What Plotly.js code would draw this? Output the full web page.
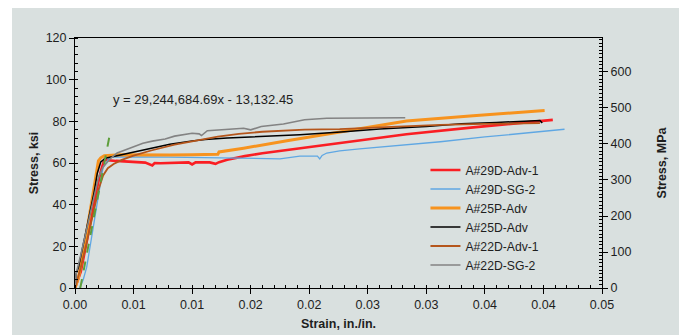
<!DOCTYPE html>
<html>
<head>
<meta charset="utf-8">
<script src="https://cdn.plot.ly/plotly-3.0.1.min.js"></script>
<style>
  html, body { margin: 0; padding: 0; background: #ffffff; }
  #chart { width: 684px; height: 335px; }
</style>
</head>
<body>
<div id="chart"></div>
<script>
// ---- Data (strain in./in., stress ksi) ----
const seriesNames = ["A#29D-Adv-1", "A#29D-SG-2", "A#25P-Adv", "A#25D-Adv", "A#22D-Adv-1", "A#22D-SG-2"];

const a29dAdv1Strain = [0, 0.0005, 0.0012, 0.0018, 0.0022, 0.0025, 0.0035, 0.0047, 0.0060, 0.0066, 0.0068, 0.0073, 0.0085, 0.0097, 0.0100, 0.0103, 0.0115, 0.0120, 0.0123, 0.0130, 0.0145, 0.0160, 0.0186, 0.0215, 0.0243, 0.0283, 0.0340, 0.0377, 0.0408];
const a29dAdv1Stress = [0, 8, 28, 46, 56, 61.5, 61.0, 60.6, 60.2, 58.8, 60.0, 59.9, 60.2, 60.3, 59.3, 60.3, 60.3, 59.6, 60.4, 61.6, 63.3, 64.7, 66.6, 68.7, 70.6, 73.8, 77.1, 79.1, 80.7];

const a29dSg2Strain = [0.0004, 0.0007, 0.0010, 0.0015, 0.0020, 0.0024, 0.0030, 0.0050, 0.0080, 0.0110, 0.0140, 0.0160, 0.0175, 0.0192, 0.0207, 0.0209, 0.0211, 0.0215, 0.0226, 0.0243, 0.0270, 0.0312, 0.0350, 0.0397, 0.0418];
const a29dSg2Stress = [0, 4, 10, 27, 44, 58, 63.0, 63.0, 62.8, 62.6, 62.4, 62.2, 62.0, 63.3, 63.3, 62.0, 63.6, 64.8, 65.8, 66.8, 68.0, 70.2, 72.5, 75.2, 76.2];

const a25pAdvStrain = [0, 0.0003, 0.0008, 0.0013, 0.0017, 0.0019, 0.0020, 0.0022, 0.0025, 0.0038, 0.0060, 0.0081, 0.0100, 0.0122, 0.0123, 0.0144, 0.0181, 0.0226, 0.0283, 0.0340, 0.0370, 0.0401];
const a25pAdvStress = [0, 5, 20, 38, 52, 58, 61, 62.5, 63.5, 64.0, 63.8, 63.9, 64.0, 64.2, 65.3, 67.1, 70.7, 75.0, 80.2, 82.7, 84.0, 85.2];

const a25dAdvStrain = [0, 0.0001, 0.0003, 0.0010, 0.0016, 0.0019, 0.0022, 0.0026, 0.0036, 0.0050, 0.0065, 0.0081, 0.0100, 0.0111, 0.0130, 0.0160, 0.0192, 0.0230, 0.0260, 0.0300, 0.0330, 0.0360, 0.0385, 0.0397, 0.0399];
const a25dAdvStress = [0, 7, 10, 28, 45, 55, 60.5, 62.3, 63.5, 65.0, 67.0, 69.0, 70.6, 71.3, 72.0, 72.8, 73.6, 75.0, 76.3, 77.5, 78.8, 79.5, 80.0, 80.4, 79.2];

const a22dAdv1Strain = [0, 0.0005, 0.0010, 0.0015, 0.0020, 0.0024, 0.0028, 0.0033, 0.0040, 0.0050, 0.0065, 0.0085, 0.0105, 0.0122, 0.0140, 0.0160, 0.0196, 0.0226, 0.0270, 0.0312, 0.0350, 0.0397];
const a22dAdv1Stress = [0, 10, 22, 35, 47, 54, 57.5, 59.5, 61.5, 63.5, 66.0, 68.8, 71.0, 72.7, 74.0, 75.0, 76.0, 76.3, 77.3, 78.3, 78.8, 79.1];

const a22dSg2Strain = [0, 0.0001, 0.0005, 0.0010, 0.0015, 0.0020, 0.0024, 0.0030, 0.0036, 0.0047, 0.0058, 0.0066, 0.0077, 0.0085, 0.0100, 0.0106, 0.0108, 0.0113, 0.0129, 0.0144, 0.0150, 0.0159, 0.0178, 0.0196, 0.0215, 0.0250, 0.0282];
const a22dSg2Stress = [0, 7, 16, 28, 41, 53, 58, 62, 64.8, 67, 69.5, 70.5, 71.5, 72.9, 74.3, 74.0, 73.2, 75.5, 76.0, 76.7, 75.9, 77.5, 78.7, 80.8, 81.5, 81.7, 81.7];

// Linear fit line (green dashed)
const fitStrain = [0.00045, 0.00305];
const fitStress = [0, 76];
const fitLabel = "y = 29,244,684.69x - 13,132.45";

// Axis ticks
const xTickVals = [0, 0.005, 0.010, 0.015, 0.020, 0.025, 0.030, 0.035, 0.040, 0.045];
const xTickText = ["0.00", "0.01", "0.01", "0.02", "0.02", "0.03", "0.03", "0.04", "0.04", "0.05"];
const mpaRange = [0, 694.4];

// ---- Styles ----
const colors = ["#fa1e23", "#5fa7e3", "#f7931e", "#000000", "#b5561c", "#838383"];
const widths = [2.6, 1.3, 3, 1.5, 1.8, 1.6];
const xs = [a29dAdv1Strain, a29dSg2Strain, a25pAdvStrain, a25dAdvStrain, a22dAdv1Strain, a22dSg2Strain];
const ys = [a29dAdv1Stress, a29dSg2Stress, a25pAdvStress, a25dAdvStress, a22dAdv1Stress, a22dSg2Stress];

const traces = seriesNames.map((n, i) => ({
  type: "scatter", mode: "lines", name: n,
  x: xs[i], y: ys[i],
  line: { color: colors[i], width: widths[i] }
}));
traces.push({
  type: "scatter", mode: "lines", name: "fit", showlegend: false,
  x: fitStrain, y: fitStress,
  line: { color: "#5e9e3b", width: 2, dash: "dash" }
});
// empty trace so the secondary (MPa) axis is drawn
traces.push({
  type: "scatter", mode: "lines", name: "MPa", showlegend: false,
  x: [], y: [], yaxis: "y2", hoverinfo: "skip"
});

const font = "Liberation Sans, Arial, sans-serif";
const tc = "#1e1e1e";

const layout = {
  width: 684, height: 335,
  margin: { l: 75, r: 82, t: 38, b: 47 },
  paper_bgcolor: "#ffffff",
  plot_bgcolor: "rgba(0,0,0,0)",
  font: { family: font, size: 12.5, color: tc },
  showlegend: true,
  legend: {
    x: 0.665, y: 0.53, xanchor: "left", yanchor: "top",
    bgcolor: "rgba(0,0,0,0)", font: { size: 12.2, color: tc },
    tracegroupgap: 0
  },
  xaxis: {
    range: [0, 0.045], tickvals: xTickVals, ticktext: xTickText,
    showgrid: false, zeroline: false, showline: true, mirror: true,
    linecolor: "#000", linewidth: 1,
    ticks: "outside", ticklen: 5, tickcolor: "#000",
    minor: { dtick: 0.001, ticks: "inside", ticklen: 3, tickcolor: "#000" },
    tickfont: { size: 12.5, color: tc },
    title: { text: "Strain, in./in.", font: { size: 12.5, color: tc, weight: "bold" }, standoff: 8 }
  },
  yaxis: {
    range: [0, 120], dtick: 20,
    showgrid: false, zeroline: false, showline: true,
    linecolor: "#000", linewidth: 1,
    ticks: "outside", ticklen: 5, tickcolor: "#000",
    minor: { dtick: 4, ticks: "inside", ticklen: 3, tickcolor: "#000" },
    tickfont: { size: 12.5, color: tc },
    title: { text: "Stress, ksi", font: { size: 12.5, color: tc, weight: "bold" }, standoff: 4 }
  },
  yaxis2: {
    overlaying: "y", side: "right", anchor: "x",
    range: mpaRange, dtick: 100,
    showgrid: false, zeroline: false, showline: true,
    linecolor: "#000", linewidth: 1,
    ticks: "outside", ticklen: 5, tickcolor: "#000",
    minor: { dtick: 10, ticks: "inside", ticklen: 3, tickcolor: "#000" },
    tickfont: { size: 12.5, color: tc },
    title: { text: "Stress, MPa", font: { size: 12.5, color: tc, weight: "bold" }, standoff: 26 }
  },
  shapes: [{
    type: "rect", xref: "paper", yref: "paper", layer: "below",
    x0: -0.1195, x1: 1.1461, y0: -0.19, y1: 1.12,
    fillcolor: "#d9e0df", line: { width: 0 }
  }],
  annotations: [{
    x: 0.00307, y: 90.7, xref: "x", yref: "y",
    xanchor: "left", yanchor: "middle", showarrow: false,
    text: fitLabel, font: { size: 13, color: tc }
  }]
};

Plotly.newPlot("chart", traces, layout, { displayModeBar: false, staticPlot: true });
</script>
</body>
</html>
